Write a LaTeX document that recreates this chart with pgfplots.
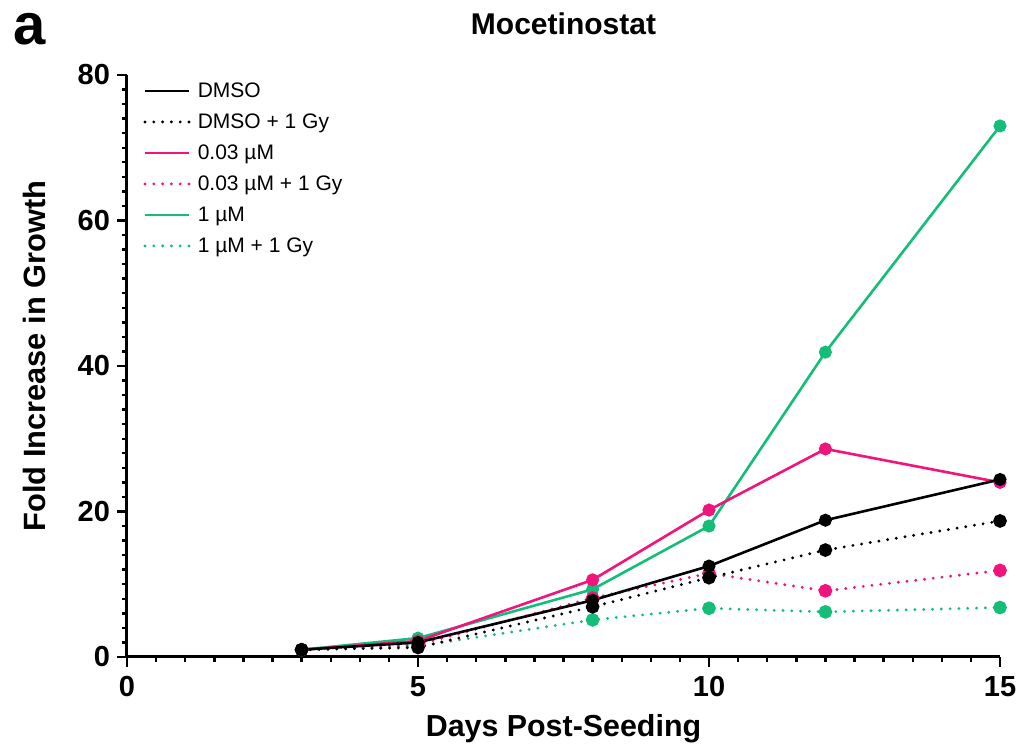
\documentclass[border=0pt]{standalone}
\usepackage{fontspec}
\setmainfont{Liberation Sans}
\usepackage{pgfplots}
\pgfplotsset{compat=1.18}
\definecolor{cblack}{RGB}{0,0,0}
\definecolor{cpink}{RGB}{240,20,125}
\definecolor{cgreen}{RGB}{20,190,120}
\begin{document}
\begin{tikzpicture}
\useasboundingbox (-63.5pt,-45pt) rectangle (447pt,328.5pt);
\begin{axis}[
  at={(0,0)}, anchor=south west,
  scale only axis, width=436.5pt, height=291pt,
  xmin=0, xmax=15, ymin=0, ymax=80,
  axis x line=bottom, axis y line=left,
  axis line style={line width=1.5pt, -},
  xtick={0,5,10,15}, ytick={0,20,40,60,80},
  minor xtick={0.5,1,...,14.5},
  minor ytick={2,4,...,78},
  tick align=outside,
  major tick length=5pt, minor tick length=2.6pt,
  every tick/.style={line width=1.2pt, black},
  /pgf/number format/assume math mode=true,
  tick label style={font=\fontsize{14.5}{16}\selectfont\bfseries},
  xticklabel style={yshift=-1pt},
  xlabel={Days Post-Seeding}, ylabel={Fold Increase in Growth},
  every axis x label/.style={at={(axis description cs:0.5,-0.124)}, anchor=center, font=\fontsize{15.2}{18}\selectfont\bfseries},
  every axis y label/.style={at={(axis description cs:-0.1065,0.517)}, anchor=center, rotate=90, font=\fontsize{15.4}{18}\selectfont\bfseries},
  title={Mocetinostat},
  title style={font=\fontsize{15}{18}\selectfont\bfseries, at={(axis description cs:0.5,1)}, anchor=base, yshift=14.5pt},
  clip=false,
  reverse legend,
  legend cell align=left,
  legend style={at={(axis description cs:0,1)}, anchor=north west, xshift=8pt, yshift=0pt,
    draw=none, fill=none, inner sep=0pt, row sep=0pt,
    font=\fontsize{10.5}{12}\selectfont,
    nodes={inner xsep=3.6pt, inner ysep=0pt, text height=11pt, text depth=4.5pt, anchor=west}},
  legend image code/.code={\draw[#1, mark=none] (0pt,0pt) -- (22pt,0pt);},
  every axis plot/.append style={line width=1.3pt, mark=*, mark size=2.6pt},
  dotted line/.style={dash pattern=on 0pt off 4.4pt, line cap=round, line width=1.6pt, mark options={solid}},
]
\addplot[cgreen, dotted line, mark options={fill=cgreen, solid}] coordinates {(3,1.0) (5,1.5) (8,5.1) (10,6.7) (12,6.2) (15,6.8)};
\addlegendentry{1 µM + 1 Gy}
\addplot[cgreen, mark options={fill=cgreen}] coordinates {(3,1.0) (5,2.6) (8,9.3) (10,18.0) (12,41.9) (15,73.0)};
\addlegendentry{1 µM}
\addplot[cpink, dotted line, mark options={fill=cpink, solid}] coordinates {(3,1.0) (5,1.7) (8,8.1) (10,11.5) (12,9.1) (15,11.9)};
\addlegendentry{0.03 µM + 1 Gy}
\addplot[cpink, mark options={fill=cpink}] coordinates {(3,1.0) (5,2.2) (8,10.6) (10,20.2) (12,28.6) (15,24.0)};
\addlegendentry{0.03 µM}
\addplot[cblack, dotted line, mark options={fill=cblack, solid}] coordinates {(3,1.0) (5,1.3) (8,6.9) (10,10.9) (12,14.7) (15,18.7)};
\addlegendentry{DMSO + 1 Gy}
\addplot[cblack, mark options={fill=cblack}] coordinates {(3,1.0) (5,2.0) (8,7.8) (10,12.5) (12,18.8) (15,24.4)};
\addlegendentry{DMSO}
\end{axis}
\node[anchor=base west, inner sep=0pt, font=\fontsize{29}{32}\selectfont\bfseries] at (-57pt,306pt) {a};
\end{tikzpicture}
\end{document}
